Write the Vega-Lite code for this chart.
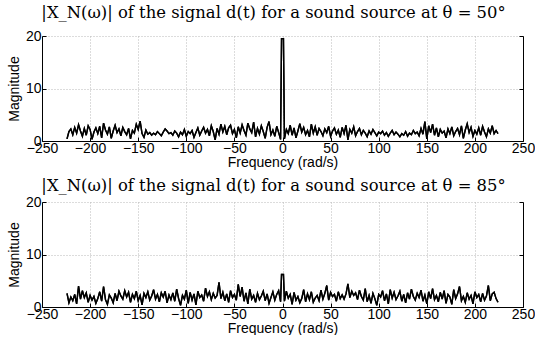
{
  "$schema": "https://vega.github.io/schema/vega-lite/v6.json",
  "padding": {"left": 7, "top": 4, "right": 0, "bottom": 0},
  "spacing": 8,
  "config": {
    "view": {"stroke": null},
    "font": "Liberation Sans",
    "axis": {"labelFont": "Liberation Sans", "labelFontSize": 14, "labelColor": "black", "labelFlush": false, "labelOverlap": false, "titleFont": "Liberation Sans", "titleFontSize": 14, "titleFontWeight": "normal", "titleColor": "black", "domainColor": "black", "tickColor": "black", "gridColor": "#b8b8b8", "gridDash": [1, 2], "gridOpacity": 1, "domainWidth": 1},
    "title": {"font": "DejaVu Serif", "fontSize": 16.4, "fontWeight": "normal", "color": "black", "offset": 8, "dx": -9}
  },
  "datasets": {
    "d": [
      {"f": -224, "a": 0.4, "b": 2.6}, {"f": -222, "a": 1.8, "b": 0.8}, {"f": -220, "a": 2.3, "b": 1.9}, {"f": -218, "a": 1.2, "b": 1.2}, {"f": -216, "a": 2.6, "b": 2.4}, {"f": -214, "a": 1.5, "b": 0.6}, {"f": -212, "a": 3.1, "b": 4.0}, {"f": -210, "a": 1.9, "b": 1.5}, {"f": -208, "a": 0.9, "b": 3.1}, {"f": -206, "a": 2.4, "b": 1.8},
      {"f": -204, "a": 1.1, "b": 2.7}, {"f": -202, "a": 2.9, "b": 0.9}, {"f": -200, "a": 2.2, "b": 2.2}, {"f": -198, "a": 0.3, "b": 1.3}, {"f": -196, "a": 1.7, "b": 2.0}, {"f": -194, "a": 2.5, "b": 0.7}, {"f": -192, "a": 1.4, "b": 1.6}, {"f": -190, "a": 2.8, "b": 2.9}, {"f": -188, "a": 0.6, "b": 1.1}, {"f": -186, "a": 3.4, "b": 3.9},
      {"f": -184, "a": 2.1, "b": 1.4}, {"f": -182, "a": 1.3, "b": 0.5}, {"f": -180, "a": 2.7, "b": 2.3}, {"f": -178, "a": 0.5, "b": 1.7}, {"f": -176, "a": 1.9, "b": 0.8}, {"f": -174, "a": 3.0, "b": 2.6}, {"f": -172, "a": 1.6, "b": 1.2}, {"f": -170, "a": 2.3, "b": 3.0}, {"f": -168, "a": 1.0, "b": 2.1}, {"f": -166, "a": 2.6, "b": 1.5},
      {"f": -164, "a": 1.8, "b": 3.1}, {"f": -162, "a": 1.2, "b": 1.9}, {"f": -160, "a": 2.4, "b": 2.8}, {"f": -158, "a": 0.4, "b": 0.9}, {"f": -156, "a": 2.0, "b": 2.4}, {"f": -154, "a": 1.5, "b": 1.6}, {"f": -152, "a": 3.2, "b": 3.0}, {"f": -150, "a": 2.2, "b": 1.2}, {"f": -148, "a": 3.8, "b": 2.2}, {"f": -146, "a": 1.4, "b": 0.4},
      {"f": -144, "a": 0.7, "b": 2.6}, {"f": -142, "a": 2.1, "b": 1.8}, {"f": -140, "a": 1.3, "b": 2.9}, {"f": -138, "a": 1.6, "b": 1.3}, {"f": -136, "a": 1.1, "b": 2.1}, {"f": -134, "a": 1.5, "b": 3.3}, {"f": -132, "a": 1.2, "b": 1.5}, {"f": -130, "a": 1.8, "b": 2.4}, {"f": -128, "a": 1.4, "b": 1.0}, {"f": -126, "a": 1.0, "b": 2.7},
      {"f": -124, "a": 1.7, "b": 1.9}, {"f": -122, "a": 2.3, "b": 3.0}, {"f": -120, "a": 1.9, "b": 0.8}, {"f": -118, "a": 1.4, "b": 2.3}, {"f": -116, "a": 1.6, "b": 1.4}, {"f": -114, "a": 1.1, "b": 2.7}, {"f": -112, "a": 1.9, "b": 1.1}, {"f": -110, "a": 1.5, "b": 3.4}, {"f": -108, "a": 0.8, "b": 1.6}, {"f": -106, "a": 1.7, "b": 0.3},
      {"f": -104, "a": 1.2, "b": 2.2}, {"f": -102, "a": 2.2, "b": 1.5}, {"f": -100, "a": 0.9, "b": 3.2}, {"f": -98, "a": 1.8, "b": 0.7}, {"f": -96, "a": 1.4, "b": 2.8}, {"f": -94, "a": 2.0, "b": 1.3}, {"f": -92, "a": 0.7, "b": 2.5}, {"f": -90, "a": 1.6, "b": 0.4}, {"f": -88, "a": 2.5, "b": 3.0}, {"f": -86, "a": 1.1, "b": 1.8},
      {"f": -84, "a": 1.9, "b": 2.3}, {"f": -82, "a": 2.6, "b": 1.1}, {"f": -80, "a": 1.5, "b": 3.6}, {"f": -78, "a": 2.2, "b": 2.0}, {"f": -76, "a": 1.0, "b": 2.9}, {"f": -74, "a": 2.9, "b": 1.4}, {"f": -72, "a": 1.8, "b": 2.6}, {"f": -70, "a": 0.2, "b": 1.7}, {"f": -68, "a": 2.4, "b": 2.2}, {"f": -66, "a": 1.3, "b": 4.7},
      {"f": -64, "a": 3.2, "b": 1.6}, {"f": -62, "a": 1.7, "b": 2.8}, {"f": -60, "a": 2.8, "b": 1.2}, {"f": -58, "a": 1.2, "b": 2.5}, {"f": -56, "a": 2.5, "b": 0.9}, {"f": -54, "a": 3.0, "b": 3.1}, {"f": -52, "a": 1.4, "b": 1.8}, {"f": -50, "a": 2.2, "b": 2.4}, {"f": -48, "a": 0.6, "b": 1.3}, {"f": -46, "a": 2.7, "b": 4.3},
      {"f": -44, "a": 1.5, "b": 2.0}, {"f": -42, "a": 3.1, "b": 3.8}, {"f": -40, "a": 2.0, "b": 1.1}, {"f": -38, "a": 1.1, "b": 2.7}, {"f": -36, "a": 3.4, "b": 0.6}, {"f": -34, "a": 2.3, "b": 3.4}, {"f": -32, "a": 1.6, "b": 1.5}, {"f": -30, "a": 3.6, "b": 2.2}, {"f": -28, "a": 0.8, "b": 0.9}, {"f": -26, "a": 2.4, "b": 2.6},
      {"f": -24, "a": 1.3, "b": 1.4}, {"f": -22, "a": 2.9, "b": 2.1}, {"f": -20, "a": 1.8, "b": 3.0}, {"f": -18, "a": 0.5, "b": 1.2}, {"f": -16, "a": 2.6, "b": 2.5}, {"f": -14, "a": 3.7, "b": 0.7}, {"f": -12, "a": 1.2, "b": 1.8}, {"f": -10, "a": 2.1, "b": 2.9}, {"f": -8, "a": 0.9, "b": 1.3}, {"f": -6, "a": 2.8, "b": 2.4},
      {"f": -4, "a": 1.6, "b": 3.1}, {"f": -2, "a": 0.3, "b": 1.0}, {"f": -1, "a": 19.5, "b": 6.2}, {"f": 0, "a": 19.5, "b": 6.2}, {"f": 1, "a": 19.5, "b": 6.2},
      {"f": 2, "a": 0.4, "b": 1.1}, {"f": 4, "a": 2.2, "b": 3.0}, {"f": 6, "a": 1.4, "b": 1.7}, {"f": 8, "a": 3.0, "b": 2.4}, {"f": 10, "a": 1.1, "b": 0.5}, {"f": 12, "a": 2.5, "b": 2.8}, {"f": 14, "a": 0.6, "b": 1.3}, {"f": 16, "a": 1.9, "b": 2.0}, {"f": 18, "a": 3.3, "b": 0.8}, {"f": 20, "a": 1.7, "b": 1.6},
      {"f": 22, "a": 2.6, "b": 3.3}, {"f": 24, "a": 1.2, "b": 1.0}, {"f": 26, "a": 2.0, "b": 2.5}, {"f": 28, "a": 0.8, "b": 1.4}, {"f": 30, "a": 3.2, "b": 2.9}, {"f": 32, "a": 1.5, "b": 0.9}, {"f": 34, "a": 2.7, "b": 1.7}, {"f": 36, "a": 1.1, "b": 2.2}, {"f": 38, "a": 2.4, "b": 1.2}, {"f": 40, "a": 1.8, "b": 3.2},
      {"f": 42, "a": 1.0, "b": 1.5}, {"f": 44, "a": 2.3, "b": 2.6}, {"f": 46, "a": 1.6, "b": 4.1}, {"f": 48, "a": 2.8, "b": 1.3}, {"f": 50, "a": 0.9, "b": 2.8}, {"f": 52, "a": 1.9, "b": 2.0}, {"f": 54, "a": 2.5, "b": 2.4}, {"f": 56, "a": 1.3, "b": 1.1}, {"f": 58, "a": 2.1, "b": 2.9}, {"f": 60, "a": 0.7, "b": 1.6},
      {"f": 62, "a": 2.6, "b": 2.3}, {"f": 64, "a": 1.4, "b": 1.5}, {"f": 66, "a": 3.0, "b": 2.5}, {"f": 68, "a": 0.2, "b": 4.4}, {"f": 70, "a": 2.2, "b": 1.8}, {"f": 72, "a": 1.5, "b": 3.0}, {"f": 74, "a": 2.7, "b": 2.2}, {"f": 76, "a": 1.0, "b": 2.7}, {"f": 78, "a": 1.8, "b": 1.4}, {"f": 80, "a": 2.4, "b": 3.2},
      {"f": 82, "a": 1.2, "b": 2.0}, {"f": 84, "a": 2.0, "b": 1.3}, {"f": 86, "a": 1.5, "b": 3.5}, {"f": 88, "a": 0.8, "b": 1.0}, {"f": 90, "a": 1.9, "b": 2.2}, {"f": 92, "a": 1.3, "b": 0.7}, {"f": 94, "a": 2.2, "b": 2.6}, {"f": 96, "a": 1.6, "b": 1.6}, {"f": 98, "a": 1.0, "b": 0.3}, {"f": 100, "a": 1.7, "b": 2.4},
      {"f": 102, "a": 1.4, "b": 1.9}, {"f": 104, "a": 1.9, "b": 3.1}, {"f": 106, "a": 1.1, "b": 1.2}, {"f": 108, "a": 1.6, "b": 2.5}, {"f": 110, "a": 0.9, "b": 0.6}, {"f": 112, "a": 1.5, "b": 3.3}, {"f": 114, "a": 2.0, "b": 1.7}, {"f": 116, "a": 1.2, "b": 2.8}, {"f": 118, "a": 1.7, "b": 1.4}, {"f": 120, "a": 1.3, "b": 2.1},
      {"f": 122, "a": 0.8, "b": 3.0}, {"f": 124, "a": 1.4, "b": 1.1}, {"f": 126, "a": 1.1, "b": 2.4}, {"f": 128, "a": 1.8, "b": 0.8}, {"f": 130, "a": 0.9, "b": 2.7}, {"f": 132, "a": 1.5, "b": 1.5}, {"f": 134, "a": 1.2, "b": 3.4}, {"f": 136, "a": 2.0, "b": 2.0}, {"f": 138, "a": 1.4, "b": 1.3}, {"f": 140, "a": 1.7, "b": 2.6},
      {"f": 142, "a": 1.0, "b": 1.8}, {"f": 144, "a": 2.4, "b": 3.2}, {"f": 146, "a": 1.3, "b": 1.1}, {"f": 148, "a": 3.7, "b": 2.3}, {"f": 150, "a": 0.4, "b": 0.6}, {"f": 152, "a": 2.9, "b": 2.9}, {"f": 154, "a": 1.6, "b": 1.6}, {"f": 156, "a": 3.2, "b": 3.5}, {"f": 158, "a": 1.1, "b": 1.4}, {"f": 160, "a": 2.5, "b": 2.2},
      {"f": 162, "a": 0.8, "b": 1.0}, {"f": 164, "a": 2.2, "b": 2.8}, {"f": 166, "a": 1.5, "b": 1.5}, {"f": 168, "a": 1.9, "b": 3.1}, {"f": 170, "a": 0.6, "b": 0.7}, {"f": 172, "a": 2.3, "b": 2.4}, {"f": 174, "a": 1.4, "b": 1.9}, {"f": 176, "a": 2.7, "b": 0.5}, {"f": 178, "a": 1.0, "b": 3.3}, {"f": 180, "a": 1.8, "b": 1.6},
      {"f": 182, "a": 2.4, "b": 2.5}, {"f": 184, "a": 1.2, "b": 3.9}, {"f": 186, "a": 2.9, "b": 1.2}, {"f": 188, "a": 0.5, "b": 2.0}, {"f": 190, "a": 2.1, "b": 0.9}, {"f": 192, "a": 3.3, "b": 2.7}, {"f": 194, "a": 1.6, "b": 1.5}, {"f": 196, "a": 2.6, "b": 2.2}, {"f": 198, "a": 0.9, "b": 0.6}, {"f": 200, "a": 2.0, "b": 2.9},
      {"f": 202, "a": 1.3, "b": 1.8}, {"f": 204, "a": 2.5, "b": 2.4}, {"f": 206, "a": 1.1, "b": 1.0}, {"f": 208, "a": 2.8, "b": 2.6}, {"f": 210, "a": 1.7, "b": 1.3}, {"f": 212, "a": 0.8, "b": 2.1}, {"f": 214, "a": 2.3, "b": 4.1}, {"f": 216, "a": 1.5, "b": 1.2}, {"f": 218, "a": 2.9, "b": 2.5}, {"f": 220, "a": 1.4, "b": 2.8},
      {"f": 222, "a": 2.0, "b": 1.6}, {"f": 224, "a": 1.4, "b": 0.9}
    ]
  },
  "vconcat": [
    {
      "width": 481, "height": 105,
      "title": "|X_N(ω)| of the signal d(t) for a sound source at θ = 50°",
      "data": {"name": "d"},
      "layer": [
        {
          "mark": {"type": "line", "color": "black", "strokeWidth": 1.4},
          "encoding": {
            "x": {"field": "f", "type": "quantitative", "scale": {"domain": [-250, 250], "nice": false}, "axis": {"values": [-250, -200, -150, -100, -50, 0, 50, 100, 150, 200, 250], "title": "Frequency (rad/s)", "titlePadding": 0, "tickSize": -4, "labelPadding": 4, "grid": true}},
            "y": {"field": "a", "type": "quantitative", "scale": {"domain": [0, 20], "nice": false}, "axis": {"values": [0, 10, 20], "title": "Magnitude", "titlePadding": 4, "tickSize": -4, "labelPadding": 5, "grid": true}}
          }
        },
        {
          "mark": {"type": "line", "color": "black", "strokeWidth": 1.4},
          "encoding": {
            "x": {"field": "f", "type": "quantitative", "scale": {"domain": [-250, 250], "nice": false}},
            "y": {"field": "a", "type": "quantitative", "scale": {"domain": [0, 20], "nice": false}, "axis": {"orient": "right", "values": [0, 10, 20], "labels": false, "title": null, "grid": false, "tickSize": -4}}
          }
        }
      ],
      "resolve": {"scale": {"y": "independent"}, "axis": {"y": "independent"}}
    },
    {
      "width": 481, "height": 105,
      "title": {"text": "|X_N(ω)| of the signal d(t) for a sound source at θ = 85°", "offset": 1},
      "data": {"name": "d"},
      "layer": [
        {
          "mark": {"type": "line", "color": "black", "strokeWidth": 1.4},
          "encoding": {
            "x": {"field": "f", "type": "quantitative", "scale": {"domain": [-250, 250], "nice": false}, "axis": {"values": [-250, -200, -150, -100, -50, 0, 50, 100, 150, 200, 250], "title": "Frequency (rad/s)", "titlePadding": 0, "tickSize": -4, "labelPadding": 4, "grid": true}},
            "y": {"field": "b", "type": "quantitative", "scale": {"domain": [0, 20], "nice": false}, "axis": {"values": [0, 10, 20], "title": "Magnitude", "titlePadding": 4, "tickSize": -4, "labelPadding": 5, "grid": true}}
          }
        },
        {
          "mark": {"type": "line", "color": "black", "strokeWidth": 1.4},
          "encoding": {
            "x": {"field": "f", "type": "quantitative", "scale": {"domain": [-250, 250], "nice": false}},
            "y": {"field": "b", "type": "quantitative", "scale": {"domain": [0, 20], "nice": false}, "axis": {"orient": "right", "values": [0, 10, 20], "labels": false, "title": null, "grid": false, "tickSize": -4}}
          }
        }
      ],
      "resolve": {"scale": {"y": "independent"}, "axis": {"y": "independent"}}
    }
  ]
}
